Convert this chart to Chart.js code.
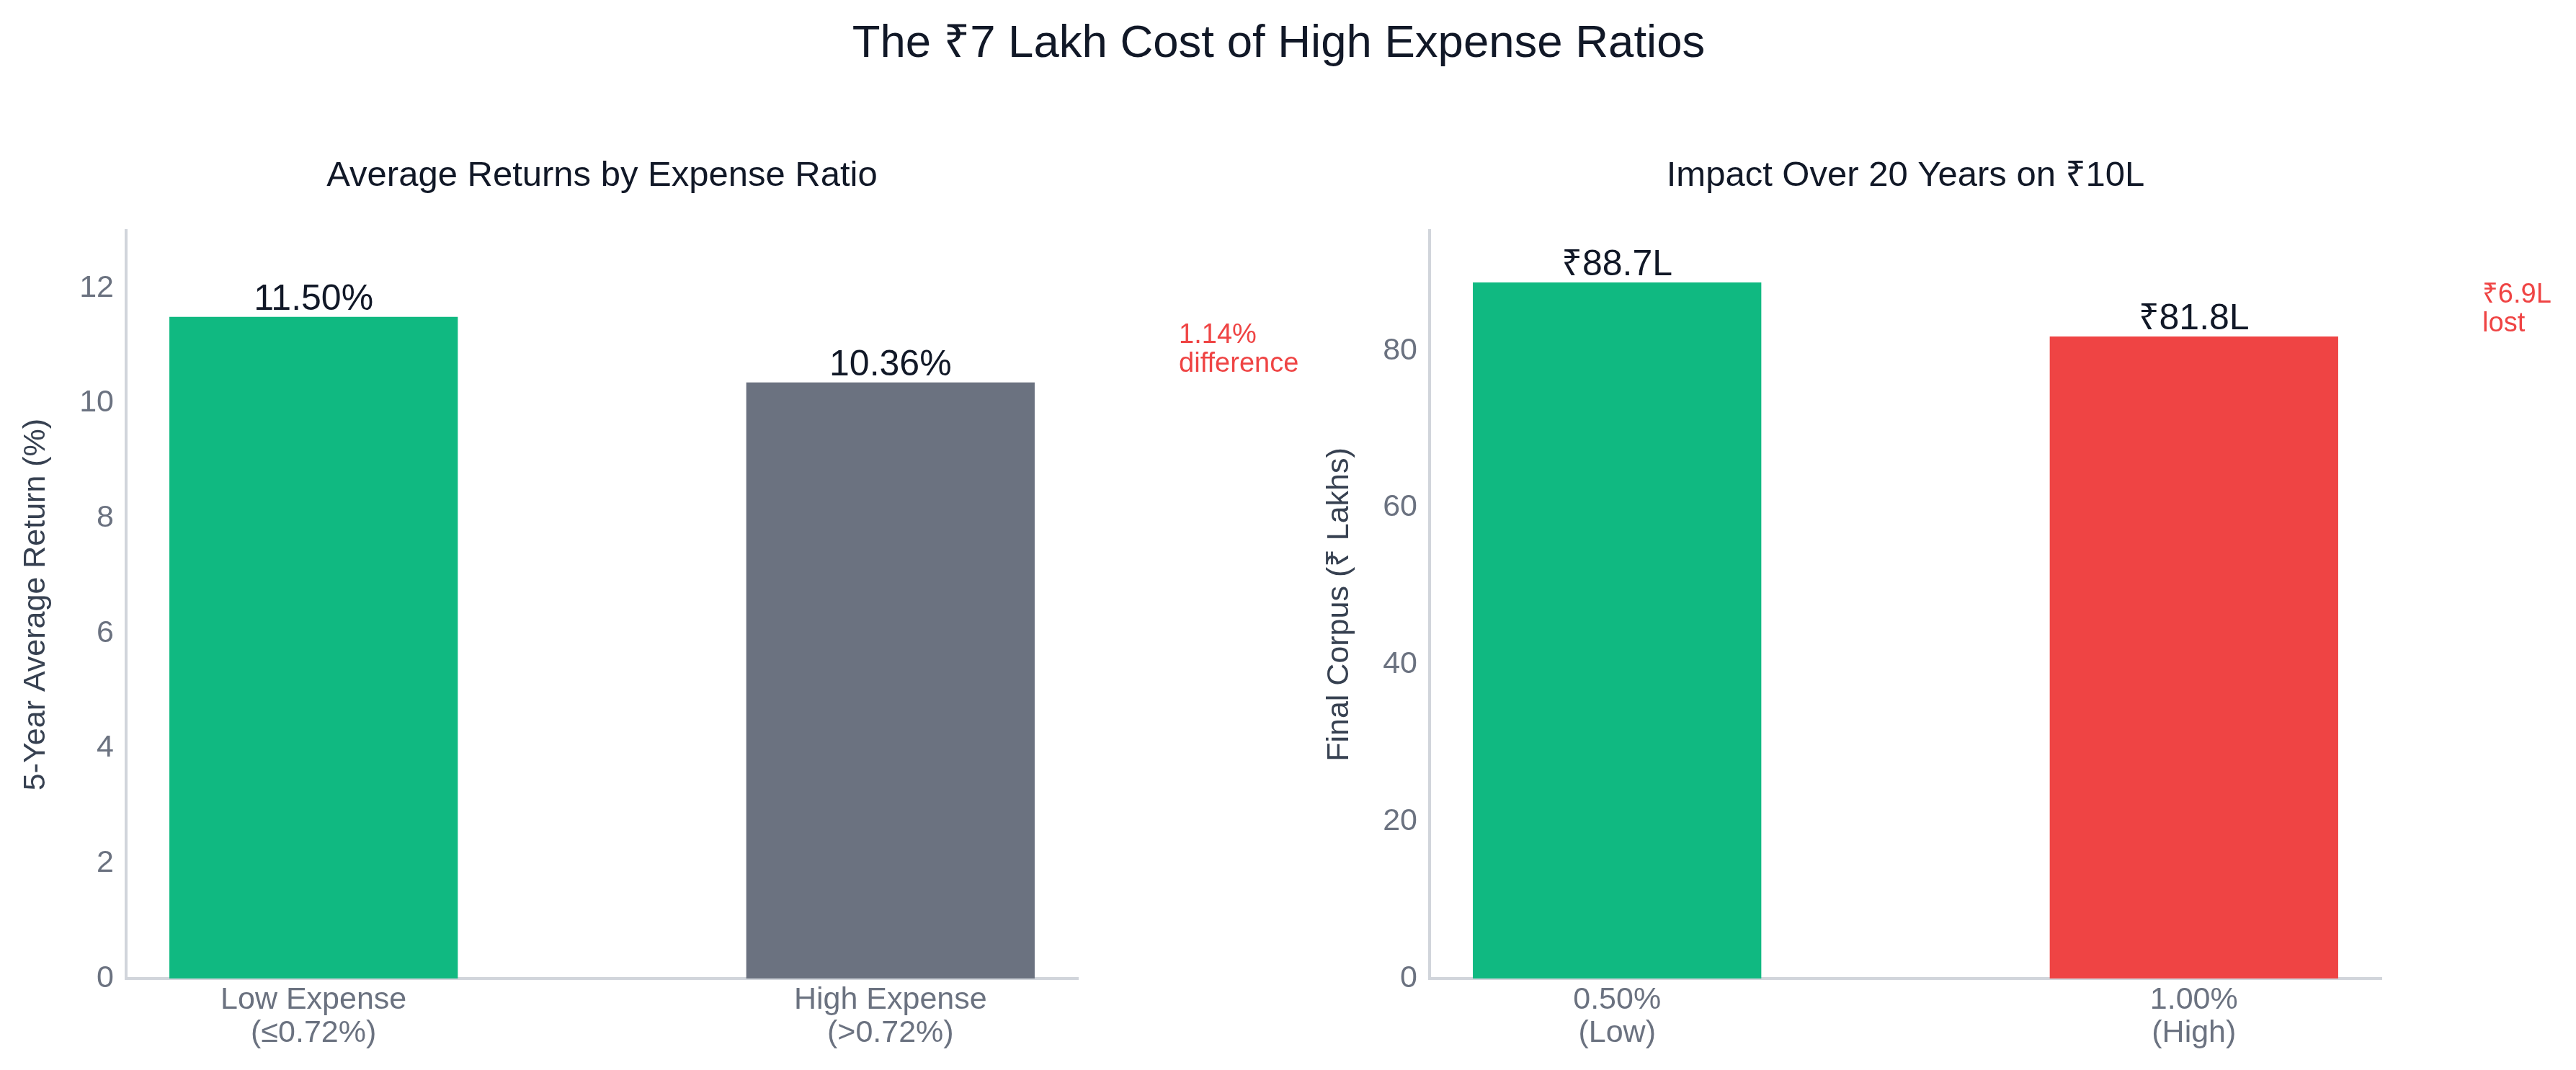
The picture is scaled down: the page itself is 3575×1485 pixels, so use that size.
<!DOCTYPE html>
<html>
<head>
<meta charset="utf-8">
<script src="https://cdn.jsdelivr.net/npm/chart.js@4.4.1/dist/chart.umd.min.js"></script>
<style>
  html, body { margin: 0; padding: 0; background: #ffffff; }
  body { width: 3575px; height: 1485px; position: relative; overflow: hidden; }
  #mainTitle {
    position: absolute; left: -13px; top: 26px; width: 3575px; text-align: center;
    font-family: "Liberation Sans", "Noto Sans", "DejaVu Sans", sans-serif;
    font-size: 63.5px; line-height: 63px; color: #111827;
  }
  canvas { position: absolute; left: 0; top: 0; }
</style>
</head>
<body>
<div id="mainTitle">The ₹7 Lakh Cost of High Expense Ratios</div>
<canvas id="c1" width="3575" height="1485"></canvas>
<canvas id="c2" width="3575" height="1485"></canvas>
<script>
// ---- data ----
const returnCategories = [['Low Expense', '(≤0.72%)'], ['High Expense', '(>0.72%)']];
const returnValues = [11.50, 10.36];
const returnValueLabels = ['11.50%', '10.36%'];
const returnColors = ['#10b981', '#6b7280'];
const returnAnnotation = ['1.14%', 'difference'];

const corpusCategories = [['0.50%', '(Low)'], ['1.00%', '(High)']];
const corpusValues = [88.7, 81.8];
const corpusValueLabels = ['₹88.7L', '₹81.8L'];
const corpusColors = ['#10b981', '#ef4444'];
const corpusAnnotation = ['₹6.9L', 'lost'];

const FONT = '"Liberation Sans", "Noto Sans", "DejaVu Sans", sans-serif';
Chart.defaults.font.family = FONT;

function labelPlugin(valueLabels, annotation, values) {
  return {
    id: 'valueLabels',
    afterDatasetsDraw(chart) {
      const ctx = chart.ctx;
      const meta = chart.getDatasetMeta(0);
      ctx.save();
      ctx.font = '50px ' + FONT;
      ctx.fillStyle = '#111827';
      ctx.textAlign = 'center';
      ctx.textBaseline = 'alphabetic';
      meta.data.forEach((bar, i) => {
        ctx.fillText(valueLabels[i], bar.x, bar.y - 10);
      });
      const xs = chart.scales.x, ys = chart.scales.y;
      const ax = xs.getPixelForValue(1.5);
      const ay = ys.getPixelForValue((values[0] + values[1]) / 2);
      ctx.font = '38px ' + FONT;
      ctx.fillStyle = '#ef4444';
      ctx.textAlign = 'left';
      ctx.textBaseline = 'middle';
      ctx.fillText(annotation[0], ax, ay - 20);
      ctx.fillText(annotation[1], ax, ay + 20);
      ctx.restore();
    }
  };
}

function makeChart(id, cats, values, colors, valueLabels, annotation, opts) {
  return new Chart(document.getElementById(id), {
    type: 'bar',
    data: {
      datasets: [{
        data: values.map((v, i) => ({ x: i, y: v })),
        backgroundColor: colors,
        borderWidth: 0,
        barPercentage: 0.5,
        categoryPercentage: 1.0
      }]
    },
    options: {
      responsive: false,
      animation: false,
      events: [],
      layout: { padding: { left: opts.padLeft, right: opts.padRight, top: 0, bottom: 0 } },
      plugins: {
        legend: { display: false },
        tooltip: { enabled: false },
        title: {
          display: true,
          text: opts.title,
          fullSize: false,
          color: '#111827',
          font: { size: 49, weight: 'normal', lineHeight: 1.2 },
          padding: { top: 214.6, bottom: 46.6 }
        }
      },
      scales: {
        x: {
          type: 'linear',
          offset: false,
          min: -0.325,
          max: 1.325,
          afterBuildTicks: (scale) => { scale.ticks = [0, 1].map(v => ({ value: v })); },
          afterFit: (scale) => { scale.height = 1485 - 1358; },
          grid: { display: false, drawTicks: false },
          border: { display: true, color: '#d1d5db', width: 4 },
          ticks: {
            autoSkip: false,
            maxRotation: 0,
            padding: 8,
            color: '#6b7280',
            font: { size: 43, lineHeight: 1.05 },
            callback: (v) => cats[v]
          }
        },
        y: {
          min: 0,
          max: opts.yMax,
          afterFit: (scale) => { scale.width = 175; },
          grid: { display: false, drawTicks: false },
          border: { display: true, color: '#d1d5db', width: 4 },
          ticks: {
            stepSize: opts.step,
            includeBounds: false,
            padding: 17,
            color: '#6b7280',
            font: { size: 43 }
          },
          title: {
            display: true,
            text: opts.yTitle,
            color: '#374151',
            font: { size: 43, lineHeight: 1.2 },
            padding: { top: 24.2, bottom: 0 }
          }
        }
      }
    },
    plugins: [labelPlugin(valueLabels, annotation, values)]
  });
}

makeChart('c1', returnCategories, returnValues, returnColors, returnValueLabels, returnAnnotation, {
  padLeft: 0, padRight: 3575 - 1496, yMax: 13, step: 2,
  title: 'Average Returns by Expense Ratio', yTitle: '5-Year Average Return (%)'
});
makeChart('c2', corpusCategories, corpusValues, corpusColors, corpusValueLabels, corpusAnnotation, {
  padLeft: 1809, padRight: 3575 - 3305, yMax: 95.3, step: 20,
  title: 'Impact Over 20 Years on ₹10L', yTitle: 'Final Corpus (₹ Lakhs)'
});
</script>
</body>
</html>
